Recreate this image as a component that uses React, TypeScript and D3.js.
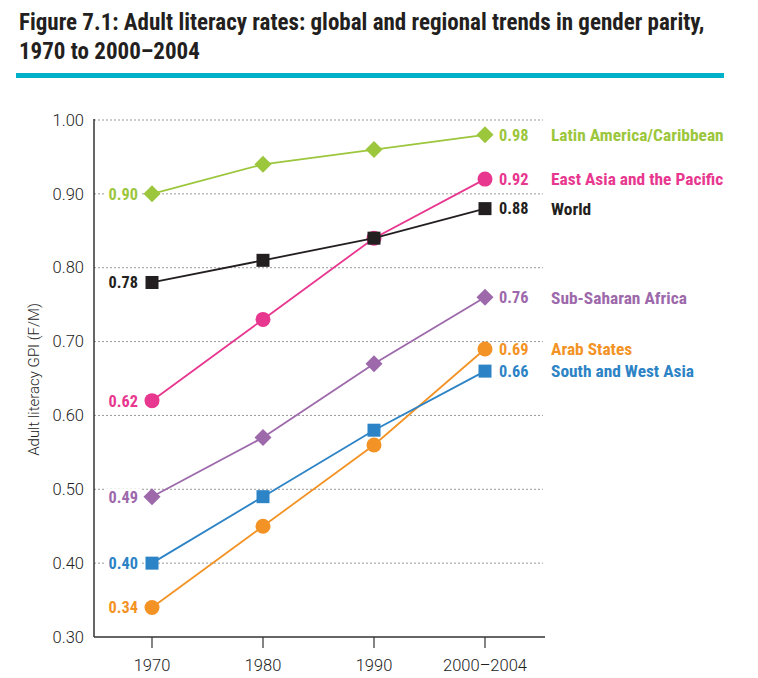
import React from 'react'
import * as d3 from 'd3'

const WIDTH = 758
const HEIGHT = 678

const YEARS = ['1970', '1980', '1990', '2000–2004']
const Y_TICKS = [0.3, 0.4, 0.5, 0.6, 0.7, 0.8, 0.9, 1.0]

const LATIN_AMERICA = [0.9, 0.94, 0.96, 0.98]
const EAST_ASIA = [0.62, 0.73, 0.84, 0.92]
const WORLD = [0.78, 0.81, 0.84, 0.88]
const SUB_SAHARAN = [0.49, 0.57, 0.67, 0.76]
const ARAB_STATES = [0.34, 0.45, 0.56, 0.69]
const SOUTH_WEST_ASIA = [0.4, 0.49, 0.58, 0.66]

const SERIES = [
  { name: 'Latin America/Caribbean', values: LATIN_AMERICA, color: '#9cc63c', marker: 'diamond' },
  { name: 'Sub-Saharan Africa', values: SUB_SAHARAN, color: '#9d69ab', marker: 'diamond' },
  { name: 'Arab States', values: ARAB_STATES, color: '#f39325', marker: 'circle' },
  { name: 'South and West Asia', values: SOUTH_WEST_ASIA, color: '#2c83c5', marker: 'square' },
  { name: 'East Asia and the Pacific', values: EAST_ASIA, color: '#e8378f', marker: 'circle' },
  { name: 'World', values: WORLD, color: '#231f20', marker: 'square' },
]

const FONT = '"Liberation Sans Narrow", "Roboto Condensed", Roboto, sans-serif'
const LIGHT = 'Roboto, "Liberation Sans", sans-serif'

const M = { left: 94, right: 545, top: 120, bottom: 637 }

function Marker({ kind, x, y, color }) {
  if (kind === 'circle') return <circle cx={x} cy={y} r={7.5} fill={color} />
  if (kind === 'square') return <rect x={x - 6.5} y={y - 6.5} width={13} height={13} fill={color} />
  return <path d={`M${x},${y - 8.5}L${x + 8.5},${y}L${x},${y + 8.5}L${x - 8.5},${y}Z`} fill={color} />
}

export default function App() {
  const x = d3.scalePoint().domain(YEARS).range([152, 485])
  const y = d3.scaleLinear().domain([0.3, 1.0]).range([M.bottom, M.top])
  const line = d3.line<number>()
    .x((_, i) => x(YEARS[i]))
    .y((d) => y(d))

  const fmt = d3.format('.2f')

  return (
    <svg width={WIDTH} height={HEIGHT} style={{ position: 'absolute', left: 0, top: 0 }}>
      <rect width={WIDTH} height={HEIGHT} fill="#fff" />

      {/* title */}
      <text x={19} y={30} fontFamily={FONT} fontWeight="bold" fontSize={23} fill="#231f20">
        Figure 7.1: Adult literacy rates: global and regional trends in gender parity,
      </text>
      <text x={19} y={59} fontFamily={FONT} fontWeight="bold" fontSize={23} fill="#231f20">
        1970 to 2000–2004
      </text>
      <rect x={16} y={73} width={708} height={5} fill="#00b2c9" />

      {/* grid */}
      {Y_TICKS.filter((t) => t > 0.3).map((t) => (
        <line key={t} x1={M.left} x2={M.right - 2} y1={y(t)} y2={y(t)}
          stroke="#999" strokeWidth={1} strokeDasharray="2,2" />
      ))}

      {/* axes */}
      <line x1={M.left} x2={M.left} y1={M.top - 1} y2={M.bottom} stroke="#333" strokeWidth={1.5} />
      <line x1={M.left} x2={M.right} y1={M.bottom} y2={M.bottom} stroke="#333" strokeWidth={1.5} />
      {YEARS.map((yr) => (
        <g key={yr}>
          <line x1={x(yr)} x2={x(yr)} y1={M.bottom} y2={M.bottom + 11} stroke="#333" strokeWidth={1.2} />
          <text x={x(yr)} y={M.bottom + 34} textAnchor="middle" fontFamily={LIGHT} fontWeight={300}
            fontSize={16.5} fill="#222">
            {yr}
          </text>
        </g>
      ))}
      {Y_TICKS.map((t) => (
        <text key={t} x={84} y={y(t)} dy="0.35em" textAnchor="end" fontFamily={LIGHT} fontWeight={300}
          fontSize={16.5} fill="#222">
          {fmt(t)}
        </text>
      ))}
      <text transform={`translate(39,${(M.top + M.bottom) / 2 + 1}) rotate(-90)`} textAnchor="middle"
        fontFamily={LIGHT} fontWeight={300} fontSize={15} fill="#222">
        Adult literacy GPI (F/M)
      </text>

      {/* series */}
      {SERIES.map((s) => (
        <g key={s.name}>
          <path d={line(s.values)} fill="none" stroke={s.color} strokeWidth={1.8} />
          {s.values.map((v, i) => (
            <Marker key={i} kind={s.marker} x={x(YEARS[i])} y={y(v)} color={s.color} />
          ))}
        </g>
      ))}

      {/* value and name labels */}
      {SERIES.map((s) => {
        const first = s.values[0]
        const last = s.values[s.values.length - 1]
        return (
          <g key={s.name} fontFamily={FONT} fontWeight="bold" fontSize={16.3} fill={s.color}>
            <rect x={106} y={y(first) - 8} width={34} height={16} fill="#fff" />
            <text x={138} y={y(first)} dy="0.36em" textAnchor="end">{fmt(first)}</text>
            <text x={499} y={y(last)} dy="0.36em">{fmt(last)}</text>
            <text x={551} y={y(last)} dy="0.36em" fontSize={17.4}>{s.name}</text>
          </g>
        )
      })}
    </svg>
  )
}
